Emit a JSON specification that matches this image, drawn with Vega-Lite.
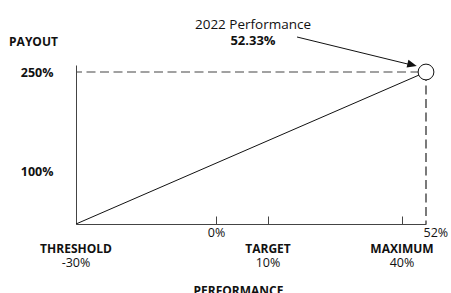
{
  "$schema": "https://vega.github.io/schema/vega-lite/v6.json",
  "autosize": {"type": "none"},
  "padding": {"left": 76, "top": 72, "right": 25, "bottom": 69},
  "width": 350,
  "height": 152,
  "background": "white",
  "config": {"view": {"stroke": null}, "font": "Open Sans"},
  "title": {
    "text": "2022 Performance",
    "subtitle": "52.33%",
    "anchor": "middle",
    "frame": "group",
    "font": "Open Sans",
    "fontSize": 13.5,
    "fontWeight": "normal",
    "color": "#111",
    "subtitleFont": "Open Sans",
    "subtitleFontSize": 13,
    "subtitleFontWeight": "bold",
    "subtitleColor": "#111",
    "subtitlePadding": 4,
    "offset": -13,
    "dx": 2
  },
  "encoding": {
    "x": {
      "field": "perf",
      "type": "quantitative",
      "scale": {"domain": [-30, 0, 10, 40, 52.33], "range": [0, 140, 192, 326, 350]},
      "axis": {
        "values": [0, 10, 40, 52.33],
        "labelExpr": "datum.value == 0 ? '0%' : (datum.value > 50 ? '52%' : '')",
        "labelAlign": {"condition": {"test": "datum.value > 50", "value": "left"}, "value": "center"},
        "labelOffset": {"condition": {"test": "datum.value > 50", "value": -3}, "value": 0},
        "labelFont": "Open Sans",
        "labelFontSize": 12.5,
        "labelColor": "#111",
        "labelPadding": 10,
        "tickSize": -8,
        "tickColor": {"condition": {"test": "datum.value > 50", "value": "transparent"}, "value": "#444"},
        "domainColor": "#444",
        "grid": false,
        "title": "PERFORMANCE",
        "titleFont": "Open Sans",
        "titleFontSize": 12,
        "titleFontWeight": "bold",
        "titleColor": "#111",
        "titleX": 162,
        "titleY": 66,
        "titleAlign": "center",
        "titleBaseline": "middle",
        "titleAnchor": null
      }
    },
    "y": {
      "field": "payout",
      "type": "quantitative",
      "scale": {"domain": [0, 100, 250, 264], "range": [152, 99, 0, -7]},
      "axis": {
        "values": [100, 250],
        "labelExpr": "datum.value + '%'",
        "labelFont": "Open Sans",
        "labelFontSize": 12.5,
        "labelFontWeight": "bold",
        "labelColor": "#111",
        "labelPadding": 23,
        "tickSize": 0,
        "domainColor": "#444",
        "grid": false,
        "title": "PAYOUT",
        "titleFont": "Open Sans",
        "titleFontSize": 12,
        "titleFontWeight": "bold",
        "titleColor": "#111",
        "titleAngle": 0,
        "titleX": -43,
        "titleY": -31,
        "titleAlign": "center",
        "titleBaseline": "middle",
        "titleAnchor": null
      }
    }
  },
  "layer": [
    {
      "data": {"values": [{"perf": -30, "payout": 0}, {"perf": 52.33, "payout": 250}]},
      "mark": {"type": "line", "color": "#111", "strokeWidth": 1}
    },
    {
      "data": {"values": [{"perf": -30, "perf_end": 52.33, "payout": 250}]},
      "mark": {"type": "rule", "color": "#444", "strokeWidth": 1.2, "strokeDash": [9, 4.5], "strokeDashOffset": 3},
      "encoding": {"x2": {"field": "perf_end"}}
    },
    {
      "data": {"values": [{"perf": 52.33, "payout": 250, "payout_end": 0}]},
      "mark": {"type": "rule", "color": "#222", "strokeWidth": 1.2, "strokeDash": [9, 4.5]},
      "encoding": {"y2": {"field": "payout_end"}}
    },
    {
      "data": {"values": [{"perf": 16.5, "payout": 320, "perf_end": 45, "payout_end": 264}]},
      "mark": {"type": "rule", "color": "#111", "strokeWidth": 1},
      "encoding": {"x2": {"field": "perf_end"}, "y2": {"field": "payout_end"}}
    },
    {
      "data": {"values": [{"perf": 45.2, "payout": 264.4}]},
      "mark": {"type": "point", "shape": "M 1 0 L -1 -0.85 L -1 0.85 Z", "size": 90, "filled": true, "color": "#111", "opacity": 1, "angle": 13.6}
    },
    {
      "data": {"values": [{"perf": 52.33, "payout": 250}]},
      "mark": {"type": "point", "shape": "circle", "size": 250, "filled": true, "fill": "white", "stroke": "#111", "strokeWidth": 1, "opacity": 1}
    },
    {
      "data": {"values": [
        {"perf": -30, "payout": 0, "name": "THRESHOLD", "pct": "-30%"},
        {"perf": 10, "payout": 0, "name": "TARGET", "pct": "10%"},
        {"perf": 40, "payout": 0, "name": "MAXIMUM", "pct": "40%"}
      ]},
      "mark": {"type": "text", "font": "Open Sans", "fontSize": 12, "fontWeight": "bold", "color": "#111", "dy": 24.5, "baseline": "middle", "align": "center"},
      "encoding": {"text": {"field": "name"}}
    },
    {
      "data": {"values": [
        {"perf": -30, "payout": 0, "name": "THRESHOLD", "pct": "-30%"},
        {"perf": 10, "payout": 0, "name": "TARGET", "pct": "10%"},
        {"perf": 40, "payout": 0, "name": "MAXIMUM", "pct": "40%"}
      ]},
      "mark": {"type": "text", "font": "Open Sans", "fontSize": 12.5, "color": "#111", "dy": 38.5, "baseline": "middle", "align": "center"},
      "encoding": {"text": {"field": "pct"}}
    }
  ]
}
